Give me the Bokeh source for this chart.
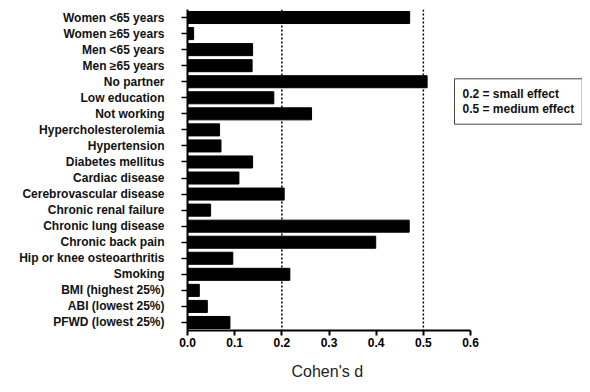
from bokeh.plotting import figure
from bokeh.models import FactorRange, Range1d, Span, Label, FixedTicker, ColumnDataSource, Title
from bokeh.embed import file_html
from bokeh.resources import INLINE

# ---- data (top to bottom as in the chart) ----
categories = [
    "Women <65 years", "Women \u226565 years", "Men <65 years", "Men \u226565 years",
    "No partner", "Low education", "Not working", "Hypercholesterolemia",
    "Hypertension", "Diabetes mellitus", "Cardiac disease", "Cerebrovascular disease",
    "Chronic renal failure", "Chronic lung disease", "Chronic back pain",
    "Hip or knee osteoarthritis", "Smoking", "BMI (highest 25%)",
    "ABI (lowest 25%)", "PFWD (lowest 25%)",
]
cohens_d = [
    0.471, 0.013, 0.138, 0.137,
    0.508, 0.183, 0.263, 0.068,
    0.071, 0.138, 0.109, 0.205,
    0.049, 0.470, 0.399,
    0.096, 0.217, 0.025,
    0.042, 0.090,
]
x_ticks = [0.0, 0.1, 0.2, 0.3, 0.4, 0.5, 0.6]
x_tick_labels = ["0.0", "0.1", "0.2", "0.3", "0.4", "0.5", "0.6"]
effect_thresholds = [0.2, 0.5]
legend_text = "0.2 = small effect\n0.5 = medium effect"
x_title = "Cohen's d"

FONT = "Liberation Sans"

source = ColumnDataSource(data=dict(cat=categories, d=cohens_d))

p = figure(
    width=582, height=392,
    y_range=FactorRange(factors=list(reversed(categories)), range_padding=0),
    x_range=Range1d(0, 0.8374),
    output_backend="svg", toolbar_location=None,
    min_border_left=187, min_border_right=0, min_border_top=9, min_border_bottom=62,
)
p.outline_line_color = None
p.background_fill_color = "white"
p.border_fill_color = "white"
p.xgrid.grid_line_color = None
p.ygrid.grid_line_color = None

p.hbar(y="cat", right="d", left=0, height=0.75, source=source,
       fill_color="black", line_color="black")

for t in effect_thresholds:
    p.add_layout(Span(location=t, dimension="height", line_color="black",
                      line_width=1.5, line_dash="2 2"))

# x axis
xa = p.xaxis[0]
xa.bounds = (0, 0.6)
xa.ticker = FixedTicker(ticks=x_ticks)
xa.major_label_overrides = {t: l for t, l in zip(x_ticks, x_tick_labels)}
xa.minor_tick_line_color = None
xa.axis_line_width = 2
xa.axis_line_color = "black"
xa.major_tick_line_width = 2
xa.major_tick_line_color = "black"
xa.major_tick_out = 5
xa.major_tick_in = 0
xa.major_label_standoff = 2
xa.major_label_text_font = FONT
xa.major_label_text_font_style = "bold"
xa.major_label_text_font_size = "12px"
xa.major_label_text_color = "black"

# x-axis title, centred under the 0 - 0.6 axis
p.add_layout(Title(text=x_title, align="left", offset=104, standoff=23,
                   text_font=FONT, text_font_style="normal", text_font_size="16px",
                   text_color="#222222"), "below")

# y axis
ya = p.yaxis[0]
ya.axis_line_width = 2
ya.axis_line_color = "black"
ya.major_tick_line_width = 1.5
ya.major_tick_line_color = "black"
ya.major_tick_out = 6
ya.major_tick_in = 0
ya.major_label_standoff = 17
ya.major_label_text_font = FONT
ya.major_label_text_font_style = "bold"
ya.major_label_text_font_size = "12px"
ya.major_label_text_color = "#111111"

# effect size legend box
p.add_layout(Label(x=267, y=229, x_units="screen", y_units="screen",
                   text=legend_text, text_align="left", text_baseline="middle",
                   text_font=FONT, text_font_style="bold", text_font_size="12px",
                   text_color="#111111", text_line_height=1.1,
                   border_line_color="#444444", border_line_width=1,
                   background_fill_color="white", padding=8))

open("out.html", "w").write(file_html(p, INLINE))
